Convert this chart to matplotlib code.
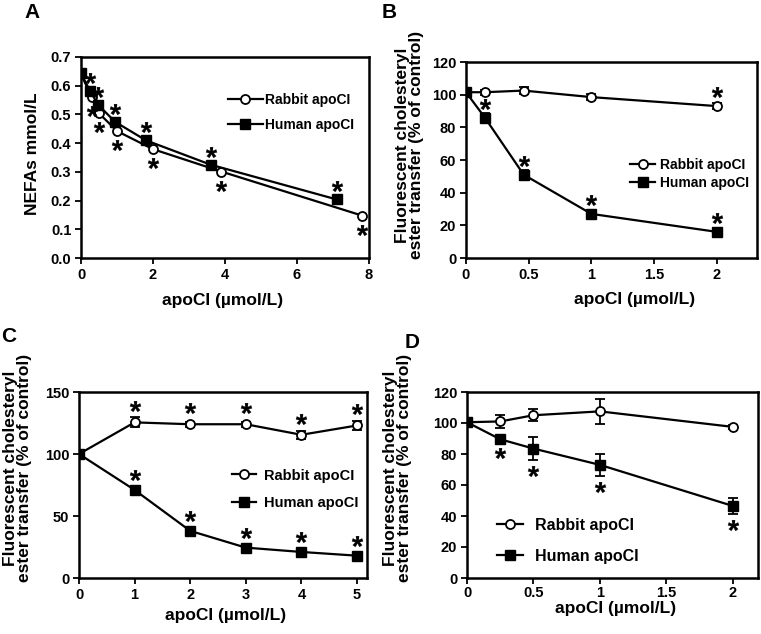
import numpy as np
import matplotlib.pyplot as plt
from matplotlib.transforms import offset_copy

plt.rcParams['font.family'] = ['Liberation Sans', 'DejaVu Sans']
plt.rcParams['font.weight'] = 'bold'
plt.rcParams['axes.labelweight'] = 'bold'
# asterisks are drawn as mathtext markers in the regular face
plt.rcParams['mathtext.fontset'] = 'custom'
plt.rcParams['mathtext.rm'] = 'Liberation Sans'
plt.rcParams['mathtext.it'] = 'Liberation Sans'
plt.rcParams['mathtext.bf'] = 'Liberation Sans'

# Panel A - NEFAs
a_rabbit_x = [0, 0.3, 0.5, 1.0, 2.0, 3.9, 7.8]
a_rabbit_y = [0.64, 0.56, 0.504, 0.442, 0.379, 0.301, 0.148]
a_rabbit_sig = [False, True, True, True, True, True, True]
a_human_x = [0, 0.25, 0.48, 0.95, 1.8, 3.6, 7.1]
a_human_y = [0.643, 0.582, 0.533, 0.474, 0.41, 0.325, 0.204]
a_human_sig = [False, True, True, True, True, True, True]

# Panel B
b_x = [0, 0.15, 0.46, 1, 2]
b_rabbit_y = [101.5, 101.5, 102.5, 98.5, 93]
b_rabbit_err = [1.5, 1.5, 2, 2, 2]
b_rabbit_sig = [False, False, False, False, True]
b_human_y = [101.5, 86, 51, 27, 16]
b_human_err = [1.5, 2.5, 3, 2, 2.5]
b_human_sig = [False, True, True, True, True]

# Panel C
c_x = [0, 1, 2, 3, 4, 5]
c_rabbit_y = [100, 125.5, 124, 124, 115.5, 123]
c_rabbit_err = [0, 4, 2, 2, 3, 4]
c_rabbit_sig = [False, True, True, True, True, True]
c_human_y = [100, 71, 38, 24.5, 21, 18]
c_human_err = [0, 2, 2, 1.5, 1, 1]
c_human_sig = [False, True, True, True, True, True]

# Panel D
d_x = [0, 0.25, 0.5, 1, 2]
d_rabbit_y = [100.5, 101, 105, 107.5, 97.5]
d_rabbit_err = [0, 4, 4, 8, 1.5]
d_human_y = [100.5, 89.5, 83.5, 73, 46.5]
d_human_err = [0, 2, 7.5, 7, 5]
d_human_sig = [False, True, True, True, True]

XLABEL = 'apoCI (\u00b5mol/L)'
YLABEL_CET = 'Fluorescent cholesteryl\nester transfer (% of control)'


def style_axes(ax, xlim, xticks, xticklabels, ylim, yticks, yfmt, xpad=3):
    ax.set_xlim(*xlim)
    ax.set_ylim(*ylim)
    ax.set_xticks(xticks)
    ax.set_xticklabels(xticklabels)
    ax.set_yticks(yticks)
    ax.set_yticklabels([yfmt.format(v) for v in yticks])
    for sp in ax.spines.values():
        sp.set_linewidth(1.8)
    ax.tick_params(direction='out', length=4, width=1.3, labelsize=10.5,
                   top=False, right=False, pad=3)
    ax.tick_params(axis='x', pad=xpad)


def draw_series(ax, x, y, err, filled, label):
    if err is not None:
        ax.errorbar(x, y, yerr=err, fmt='none', ecolor='black', elinewidth=1.3,
                    capsize=3.5, capthick=1.3, zorder=2)
    if filled:
        line, = ax.plot(x, y, color='black', lw=1.6, marker='s', ms=7,
                        mfc='black', mec='black', mew=1, zorder=4, label=label)
    else:
        line, = ax.plot(x, y, color='black', lw=1.6, marker='o', ms=6.5,
                        mfc='white', mec='black', mew=1.3, zorder=3, label=label)
    return line


def mark_sig(ax, x, y, sig, dy_px):
    tr = offset_copy(ax.transData, fig=ax.figure, x=0, y=dy_px, units='dots')
    xs = [xi for xi, s in zip(x, sig) if s]
    ys = [yi for yi, s in zip(y, sig) if s]
    ax.plot(xs, ys, ls='none', marker='$*$', ms=8, mew=0.2, color='black',
            transform=tr, clip_on=False, zorder=5)


def add_legend(ax, handles, anchor, fs, hl, tp, ls):
    ax.legend(handles=handles, loc='center left', bbox_to_anchor=anchor,
              frameon=False, fontsize=fs, handlelength=hl, handletextpad=tp,
              labelspacing=ls, borderpad=0, borderaxespad=0, numpoints=1)


fig = plt.figure(figsize=(7.61, 6.34), dpi=100)
W, H = 761, 634


def px_axes(l, t, r, b):
    return fig.add_axes([l / W, 1 - b / H, (r - l) / W, (b - t) / H])


# ---- A
ax = px_axes(81, 57, 369, 258)
r = draw_series(ax, a_rabbit_x, a_rabbit_y, None, False, 'Rabbit apoCI')
h = draw_series(ax, a_human_x, a_human_y, None, True, 'Human apoCI')
mark_sig(ax, a_human_x, a_human_y, a_human_sig, 13)
mark_sig(ax, a_rabbit_x, a_rabbit_y, a_rabbit_sig, -14)
style_axes(ax, (0, 8), [0, 2, 4, 6, 8], ['0', '2', '4', '6', '8'],
           (0, 0.7), np.arange(0, 0.71, 0.1), '{:.1f}')
add_legend(ax, [r, h], (0.51, 0.724), 10, 2.5, 0.2, 0.8)
ax.set_xlabel(XLABEL, fontsize=12.5)
ax.set_ylabel('NEFAs mmol/L', fontsize=12.5)
ax.xaxis.set_label_coords(0.49, -0.209)
ax.xaxis.label.set_va('center')
ax.yaxis.set_label_coords(-0.167, 0.52)
ax.yaxis.label.set_va('center')

# ---- B
ax = px_axes(466, 62, 757, 258)
r = draw_series(ax, b_x, b_rabbit_y, b_rabbit_err, False, 'Rabbit apoCI')
h = draw_series(ax, b_x, b_human_y, b_human_err, True, 'Human apoCI')
mark_sig(ax, b_x, b_rabbit_y, b_rabbit_sig, 14)
mark_sig(ax, b_x, b_human_y, b_human_sig, 14)
style_axes(ax, (0, 2.32), [0, 0.5, 1, 1.5, 2], ['0', '0.5', '1', '1.5', '2'],
           (0, 120), np.arange(0, 121, 20), '{:.0f}')
add_legend(ax, [r, h], (0.564, 0.429), 10, 1.8, 0.35, 0.3)
ax.set_xlabel(XLABEL, fontsize=12.5)
ax.set_ylabel(YLABEL_CET, fontsize=12.5, linespacing=0.95)
ax.xaxis.set_label_coords(0.58, -0.214)
ax.xaxis.label.set_va('center')
ax.yaxis.set_label_coords(-0.194, 0.577)
ax.yaxis.label.set_va('center')

# ---- C
ax = px_axes(79, 392, 367, 578)
r = draw_series(ax, c_x, c_rabbit_y, c_rabbit_err, False, 'Rabbit apoCI')
h = draw_series(ax, c_x, c_human_y, c_human_err, True, 'Human apoCI')
mark_sig(ax, c_x, c_rabbit_y, c_rabbit_sig, 16)
mark_sig(ax, c_x, c_human_y, c_human_sig, 15)
style_axes(ax, (0, 5.18), [0, 1, 2, 3, 4, 5], ['0', '1', '2', '3', '4', '5'],
           (0, 150), np.arange(0, 151, 50), '{:.0f}')
add_legend(ax, [r, h], (0.531, 0.476), 10.5, 1.65, 0.55, 0.95)
ax.set_xlabel(XLABEL, fontsize=12.5)
ax.set_ylabel(YLABEL_CET, fontsize=12.5, linespacing=0.95)
ax.xaxis.set_label_coords(0.51, -0.204)
ax.xaxis.label.set_va('center')
ax.yaxis.set_label_coords(-0.214, 0.59)
ax.yaxis.label.set_va('center')

# ---- D
ax = px_axes(467, 392, 758, 578)
r = draw_series(ax, d_x, d_rabbit_y, d_rabbit_err, False, 'Rabbit apoCI')
h = draw_series(ax, d_x, d_human_y, d_human_err, True, 'Human apoCI')
d_low = [y - e for y, e in zip(d_human_y, d_human_err)]
mark_sig(ax, d_x, d_low, d_human_sig, -11)
style_axes(ax, (0, 2.19), [0, 0.5, 1, 1.5, 2], ['0', '0.5', '1', '1.5', '2'],
           (0, 120), np.arange(0, 121, 20), '{:.0f}', xpad=1.5)
add_legend(ax, [r, h], (0.103, 0.199), 11.5, 1.65, 0.7, 1.0)
ax.set_xlabel(XLABEL, fontsize=12.5)
ax.set_ylabel(YLABEL_CET, fontsize=12.5, linespacing=0.95)
ax.xaxis.set_label_coords(0.51, -0.165)
ax.xaxis.label.set_va('center')
ax.yaxis.set_label_coords(-0.239, 0.59)
ax.yaxis.label.set_va('center')

# panel letters
for letter, (px, py) in zip('ABCD', [(32, 12), (389, 12), (9, 337), (412, 342)]):
    fig.text(px / W, 1 - py / H, letter, fontsize=15, fontweight='bold',
             ha='center', va='center')

fig.savefig('out.png', dpi=100)
